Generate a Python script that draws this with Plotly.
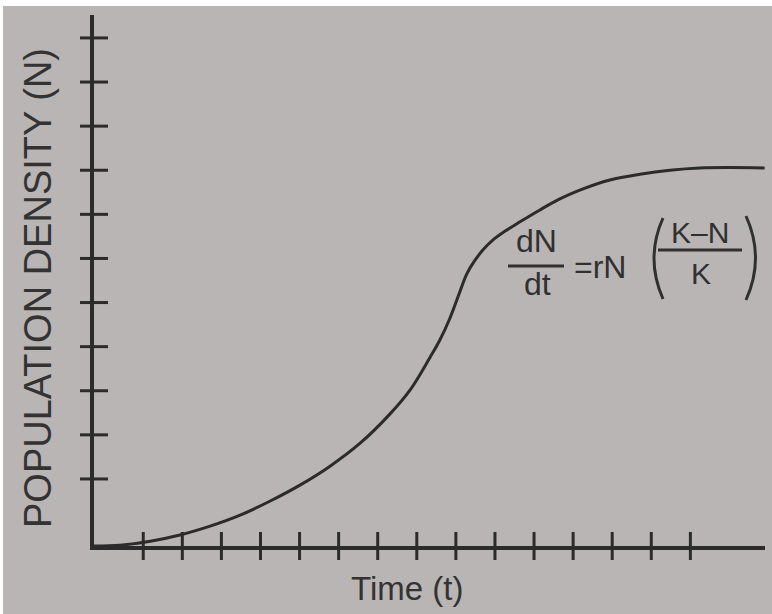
import plotly.graph_objects as go

# ---- data ----
time_t = [-0.26, 0.41, 1.18, 1.94, 2.71, 3.48, 4.25, 5.01, 5.78, 6.55, 7.31, 7.83,
          8.34, 8.59, 8.85, 9.10, 9.28, 9.49, 9.69, 9.95, 10.26, 10.64, 11.15,
          11.66, 12.17, 12.94, 13.71, 14.48, 15.24, 16.01, 16.90]
density_n = [-0.52, -0.50, -0.41, -0.27, -0.07, 0.18, 0.50, 0.86, 1.29, 1.81, 2.47, 3.02,
             3.76, 4.15, 4.65, 5.24, 5.65, 5.96, 6.19, 6.42, 6.62, 6.83, 7.10,
             7.35, 7.55, 7.78, 7.91, 8.00, 8.05, 8.06, 8.05]
x_ticks = list(range(1, 16))
y_ticks = list(range(1, 12))
x_range = [-0.26, 16.91]
y_range = [-0.52, 11.52]

INK = "#2b2b2b"
BG = "#b9b5b4"
FONT = "Liberation Sans, Arial, sans-serif"

W, H = 772, 614
L, R, T, B = 94, 7, 15, 68
pw, ph = W - L - R, H - T - B


def px(x):
    return (x - L) / pw


def py(y):
    return (H - B - y) / ph


fig = go.Figure()

fig.add_trace(go.Scatter(
    x=time_t, y=density_n, mode="lines",
    line=dict(color=INK, width=3, shape="spline", smoothing=1.0),
    hoverinfo="skip", showlegend=False, cliponaxis=False,
))

# tick marks crossing the axes
fig.add_trace(go.Scatter(
    x=x_ticks, y=[y_range[0]] * len(x_ticks), mode="markers",
    marker=dict(symbol="line-ns", size=20, line=dict(color=INK, width=3)),
    hoverinfo="skip", showlegend=False, cliponaxis=False,
))
fig.add_trace(go.Scatter(
    x=[x_range[0]] * len(y_ticks), y=y_ticks, mode="markers",
    marker=dict(symbol="line-ew", size=20, line=dict(color=INK, width=3)),
    hoverinfo="skip", showlegend=False, cliponaxis=False,
))

annotations = [
    dict(text="POPULATION DENSITY (N)", x=px(38), y=py(288), textangle=-90,
         font=dict(size=38, color="#333333", family=FONT)),
    dict(text="Time (t)", x=px(407), y=py(588),
         font=dict(size=33, color="#333333", family=FONT)),
    dict(text="dN", x=px(536), y=py(241), font=dict(size=32, color="#303030", family=FONT)),
    dict(text="dt", x=px(537), y=py(284), font=dict(size=32, color="#303030", family=FONT)),
    dict(text="=rN", x=px(600), y=py(267), font=dict(size=32, color="#303030", family=FONT)),
    dict(text="K–N", x=px(700), y=py(232), font=dict(size=30, color="#303030", family=FONT)),
    dict(text="K", x=px(701), y=py(273), font=dict(size=30, color="#303030", family=FONT)),
]
for a in annotations:
    a.update(xref="paper", yref="paper", showarrow=False,
             xanchor="center", yanchor="middle")

shapes = [
    # fraction bars
    dict(type="line", x0=px(508), x1=px(564), y0=py(266), y1=py(266),
         line=dict(color="#303030", width=3)),
    dict(type="line", x0=px(658), x1=px(742), y0=py(250), y1=py(250),
         line=dict(color="#303030", width=3)),
    # brackets
    dict(type="path",
         path=f"M {px(663)},{py(218)} Q {px(645)},{py(258)} {px(663)},{py(299)}",
         line=dict(color="#303030", width=3)),
    dict(type="path",
         path=f"M {px(746)},{py(216)} Q {px(765)},{py(258)} {px(746)},{py(300)}",
         line=dict(color="#303030", width=3)),
    # white photo edges
    dict(type="rect", x0=px(0), x1=px(W), y0=py(0), y1=py(6),
         fillcolor="white", line=dict(width=0)),
    dict(type="rect", x0=px(0), x1=px(3), y0=py(0), y1=py(H),
         fillcolor="white", line=dict(width=0)),
]
for s in shapes:
    s.update(xref="paper", yref="paper")

axis_common = dict(showgrid=False, zeroline=False, showticklabels=False,
                   ticks="", showline=True, linecolor=INK, linewidth=4)

fig.update_layout(
    width=W, height=H,
    margin=dict(l=L, r=R, t=T, b=B, pad=0),
    paper_bgcolor=BG, plot_bgcolor=BG,
    xaxis=dict(range=x_range, **axis_common),
    yaxis=dict(range=y_range, **axis_common),
    annotations=annotations, shapes=shapes,
    showlegend=False,
)

fig.write_html("out.html", config={"displayModeBar": False},
               post_script="document.body.style.margin='0px';")
